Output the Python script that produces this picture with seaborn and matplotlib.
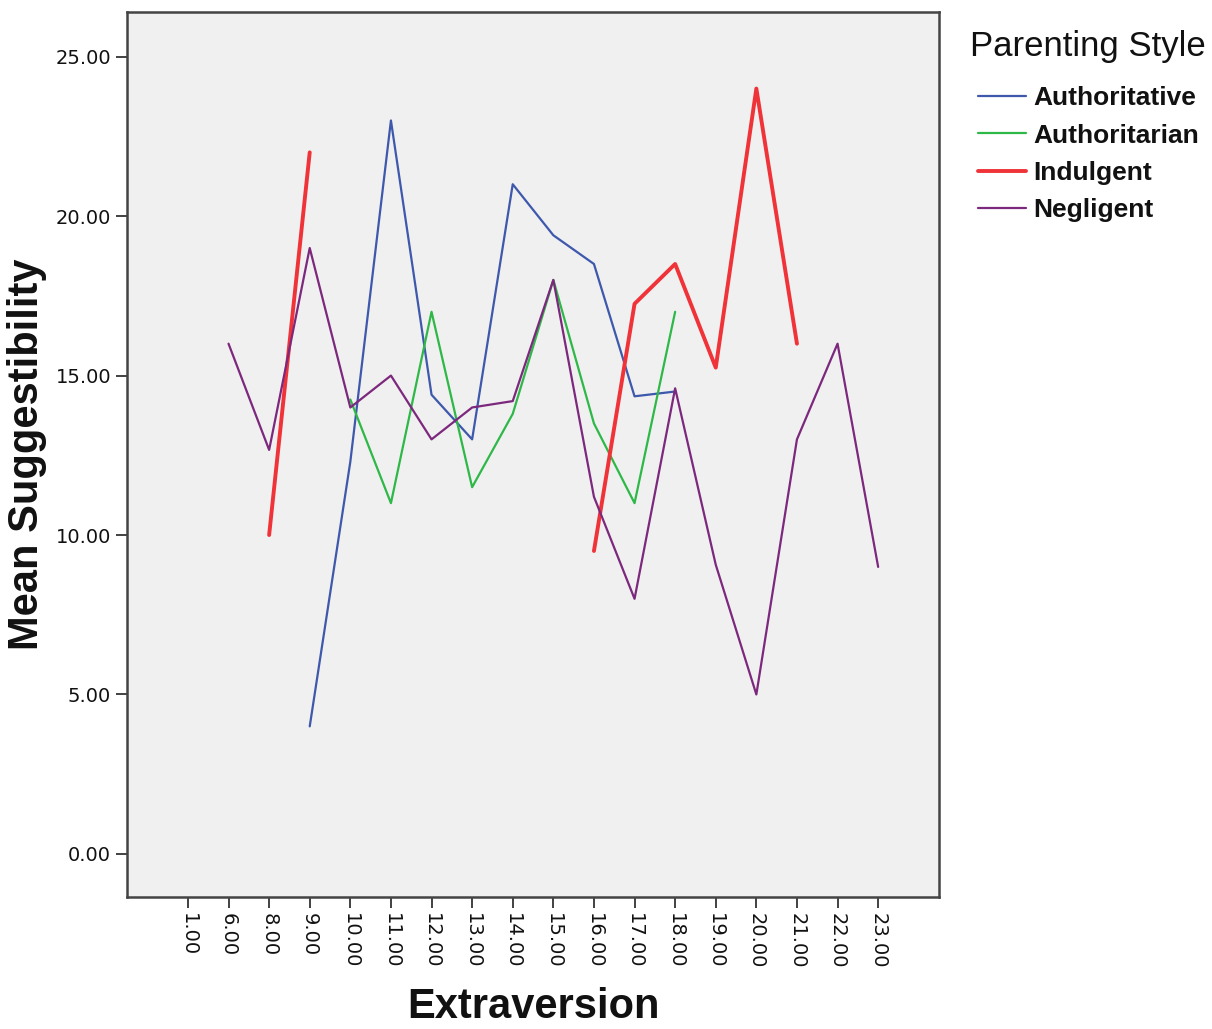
import numpy as np
import pandas as pd
import matplotlib
matplotlib.use('Agg')
import matplotlib.pyplot as plt
from matplotlib import font_manager
import seaborn as sns

nan = np.nan

# Extraversion categories on the x axis
extraversion = ['1.00', '6.00', '8.00', '9.00', '10.00', '11.00', '12.00', '13.00', '14.00',
                '15.00', '16.00', '17.00', '18.00', '19.00', '20.00', '21.00', '22.00', '23.00']

# Mean suggestibility per parenting style (nan = no data, line breaks there)
authoritative = [nan, nan, nan, 4.0, 12.3, 23.0, 14.4, 13.0, 21.0, 19.4, 18.5, 14.35, 14.5,
                 nan, nan, nan, nan, nan]
authoritarian = [nan, nan, nan, nan, 14.25, 11.0, 17.0, 11.5, 13.8, 18.0, 13.5, 11.0, 17.0,
                 nan, nan, nan, nan, nan]
indulgent = [nan, nan, 10.0, 22.0, nan, nan, nan, nan, nan, nan, 9.5, 17.25, 18.5, 15.25,
             24.0, 16.0, nan, nan]
negligent = [nan, 16.0, 12.67, 19.0, 14.0, 15.0, 13.0, 14.0, 14.2, 18.0, 11.2, 8.0, 14.6, 9.07,
             5.0, 13.0, 16.0, 9.0]

styles = ['Authoritative', 'Authoritarian', 'Indulgent', 'Negligent']
series = [authoritative, authoritarian, indulgent, negligent]
colors = {'Authoritative': '#3E58AC', 'Authoritarian': '#2EB848',
          'Indulgent': '#EF3338', 'Negligent': '#7C287D'}
widths = {'Authoritative': 1.6, 'Authoritarian': 1.6, 'Indulgent': 2.8, 'Negligent': 1.6}

# long table, with a segment id so missing categories leave a gap
rows = []
for name, vals in zip(styles, series):
    seg = 0
    for i, v in enumerate(vals):
        if np.isnan(v):
            seg += 1
            continue
        rows.append({'pos': i, 'value': v, 'style': name, 'seg': f'{name}-{seg}'})
df = pd.DataFrame(rows)

sns.set_style('ticks')
names = {f.name for f in font_manager.fontManager.ttflist}
narrow = 'Liberation Sans Narrow' if 'Liberation Sans Narrow' in names else 'Liberation Sans'
plt.rcParams['font.family'] = ['DejaVu Sans']

fig = plt.figure(figsize=(12.12, 10.29), dpi=100)
ax = fig.add_axes([0.1048, 0.1283, 0.6700, 0.8600])
ax.set_facecolor('#F0F0F0')

sns.lineplot(data=df, x='pos', y='value', hue='style', size='style', sizes=widths,
             units='seg', estimator=None, palette=colors, hue_order=styles,
             size_order=styles, ax=ax)

ax.set_xlim(-1.5, 18.5)
ax.set_ylim(-1.35, 26.4)
ax.set_xticks(range(len(extraversion)))
ax.set_xticklabels(extraversion, rotation=270, fontsize=14)
yt = [0, 5, 10, 15, 20, 25]
ax.set_yticks(yt)
ax.set_yticklabels([f'{v:.2f}' for v in yt], fontsize=14)
ax.tick_params(axis='both', direction='out', length=8, width=1.3, color='#333333',
               labelcolor='#111111')
for s in ax.spines.values():
    s.set_visible(True)
    s.set_color('#444444')
    s.set_linewidth(1.8)

ax.set_xlabel('Extraversion', fontsize=30, fontweight='bold', family=narrow, labelpad=13,
              color='#111111')
ax.set_ylabel('Mean Suggestibility', fontsize=30, fontweight='bold', family=narrow, labelpad=6,
              color='#111111')

# legend title drawn on its own, entries below it
fig.text(0.800, 0.955, 'Parenting Style', fontsize=25, family='Liberation Sans',
         color='#111111', ha='left', va='center')
leg = ax.legend(loc='upper left', bbox_to_anchor=(0.807, 0.916),
                bbox_transform=fig.transFigure, frameon=False, handlelength=1.82,
                handletextpad=0.27, labelspacing=0.5, borderaxespad=0, borderpad=0,
                prop={'family': 'Liberation Sans', 'weight': 'bold', 'size': 19})
for t in leg.get_texts():
    t.set_color('#111111')

fig.savefig('out.png', dpi=100)
